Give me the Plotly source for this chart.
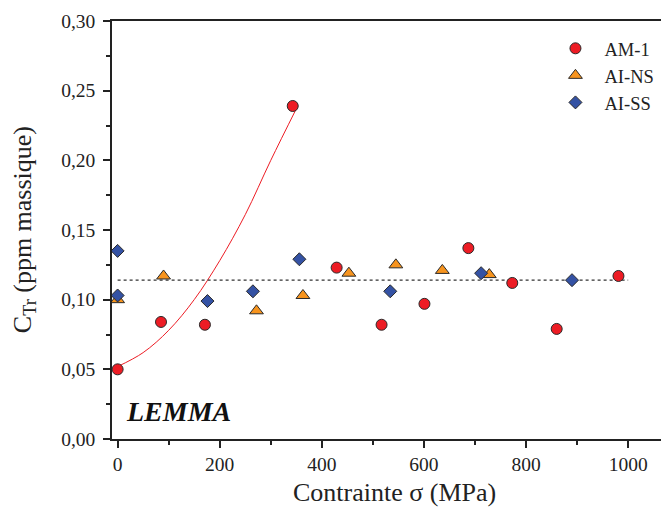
import plotly.graph_objects as go

# ---- data ----
am1_x = [0, 85, 171, 343, 429, 517, 601, 687, 773, 860, 981]
am1_y = [0.050, 0.084, 0.082, 0.239, 0.123, 0.082, 0.097, 0.137, 0.112, 0.079, 0.117]

ains_x = [0, 90, 272, 363, 453, 545, 636, 728]
ains_y = [0.100, 0.117, 0.092, 0.103, 0.119, 0.125, 0.121, 0.118]

aiss_x = [0, 0, 176, 265, 356, 534, 712, 890]
aiss_y = [0.135, 0.103, 0.099, 0.106, 0.129, 0.106, 0.119, 0.114]

fit_x = [0, 50, 100, 150, 200, 250, 300, 350]
fit_y = [0.052, 0.062, 0.078, 0.100, 0.128, 0.161, 0.200, 0.237]

mean_x = [0, 1000]
mean_y = [0.114, 0.114]

FONT = "Liberation Serif"
RED = "#ED1C24"
ORANGE = "#F7941E"
BLUE = "#3452A4"
EDGE = "#2a2a2a"
INK = "#222222"

fig = go.Figure()
fig.add_trace(go.Scatter(x=fit_x, y=fit_y, mode="lines", line=dict(color=RED, width=1, shape="spline"),
                         showlegend=False, hoverinfo="skip"))
fig.add_trace(go.Scatter(x=mean_x, y=mean_y, mode="lines", line=dict(color="#333333", width=1.1, dash="3px,3px"),
                         showlegend=False, hoverinfo="skip"))
fig.add_trace(go.Scatter(x=am1_x, y=am1_y, mode="markers", name="AM-1",
                         marker=dict(symbol="circle", size=11, color=RED, line=dict(color=EDGE, width=1))))
fig.add_trace(go.Scatter(x=ains_x, y=ains_y, mode="markers", name="AI-NS",
                         marker=dict(symbol="triangle-up", size=12, color=ORANGE, line=dict(color=EDGE, width=1))))
fig.add_trace(go.Scatter(x=aiss_x, y=aiss_y, mode="markers", name="AI-SS",
                         marker=dict(symbol="diamond", size=10, color=BLUE, line=dict(color=EDGE, width=1))))

# the page adds an 8px body margin, so the figure is 8px smaller and margins shifted by 8px
fig.update_layout(
    width=661, height=499,
    margin=dict(l=104, r=0, t=13, b=68),
    paper_bgcolor="white", plot_bgcolor="white",
    separators=", ",
    font=dict(family=FONT, size=19.5, color=INK),
    showlegend=True,
    legend=dict(x=0.780, y=0.979, xanchor="left", yanchor="top", bgcolor="rgba(0,0,0,0)",
                font=dict(family=FONT, size=18.5, color=INK), itemwidth=48,
                traceorder="normal"),
    xaxis=dict(range=[-11, 1080], tick0=0, dtick=200, ticks="outside", ticklen=7, tickwidth=1.5,
               tickcolor=INK, showline=True, linewidth=1.5, linecolor=INK, mirror=True,
               showgrid=False, zeroline=False,
               minor=dict(dtick=100, ticks="outside", ticklen=4, tickwidth=1.5, tickcolor=INK),
               tickfont=dict(family=FONT, size=19.5)),
    yaxis=dict(range=[0, 0.30], tick0=0, dtick=0.05, tickformat=".2f", ticks="outside", ticklen=7,
               tickwidth=1.5, tickcolor=INK, showline=True, linewidth=1.5, linecolor=INK,
               showgrid=False, zeroline=False, ticklabelstandoff=4,
               minor=dict(dtick=0.025, ticks="outside", ticklen=4, tickwidth=1.5, tickcolor=INK),
               tickfont=dict(family=FONT, size=19.5)),
    annotations=[
        dict(text="Contrainte σ (MPa)", xref="paper", yref="paper", x=0.508, y=-0.127,
             xanchor="center", yanchor="middle", showarrow=False, font=dict(family=FONT, size=26)),
        dict(text="C<sub>Tr</sub> (ppm massique)", xref="paper", yref="paper", x=-0.158, y=0.502,
             xanchor="center", yanchor="middle", textangle=-90, showarrow=False,
             font=dict(family=FONT, size=26)),
        dict(text="<b><i>LEMMA</i></b>", xref="x", yref="y", x=12, y=0.020, xanchor="left",
             yanchor="middle", showarrow=False, font=dict(family=FONT, size=28, color="#111111")),
    ],
)

fig.write_html("out.html")
